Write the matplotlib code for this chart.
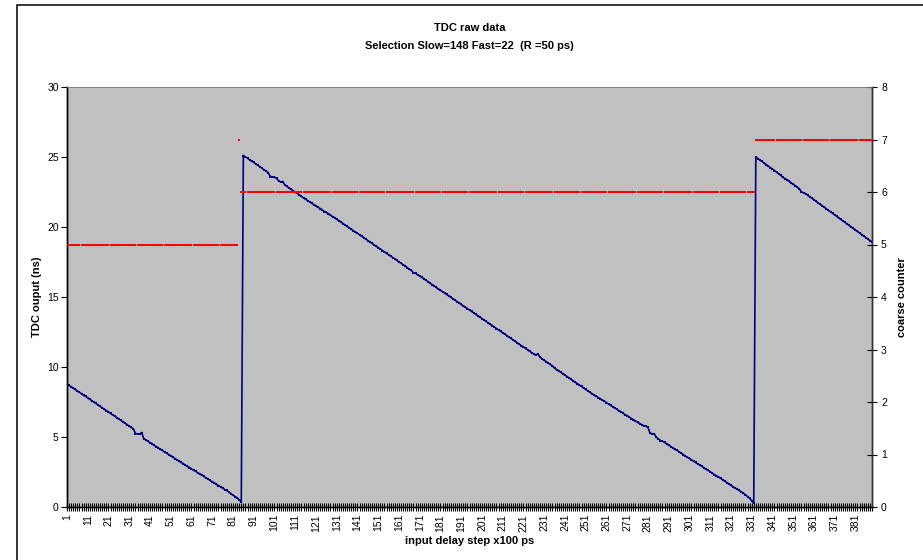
import numpy as np
import matplotlib
matplotlib.use("Agg")
import matplotlib.pyplot as plt
from matplotlib.patches import Rectangle
from matplotlib.ticker import FixedLocator, NullFormatter

plt.rcParams['font.family'] = ['Liberation Sans', 'DejaVu Sans']

# ---- data -------------------------------------------------------------
# TDC output (ns) per input delay step
tdc_seg1 = [8.80, 8.68, 8.60, 8.48, 8.40, 8.28, 8.20, 8.08, 7.98, 7.90,
            7.78, 7.70, 7.58, 7.48, 7.40, 7.28, 7.18, 7.08, 6.98, 6.88,
            6.80, 6.68, 6.58, 6.50, 6.38, 6.28, 6.18, 6.08, 5.98, 5.88,
            5.78, 5.68, 5.58, 5.25, 5.22, 5.20, 5.32, 4.88, 4.80, 4.70,
            4.60, 4.52, 4.40, 4.32, 4.22, 4.12, 4.05, 3.92, 3.85, 3.75,
            3.65, 3.58, 3.45, 3.38, 3.28, 3.18, 3.10, 3.00, 2.90, 2.82,
            2.72, 2.62, 2.55, 2.45, 2.35, 2.28, 2.18, 2.08, 2.00, 1.90,
            1.80, 1.72, 1.62, 1.52, 1.45, 1.35, 1.25, 1.18, 1.08, 0.95,
            0.85, 0.75, 0.65, 0.52, 0.38]
tdc_seg2 = [25.10, 25.00, 24.92, 24.80, 24.70, 24.62, 24.50, 24.40, 24.30, 24.20,
            24.08, 24.00, 23.88, 23.60, 23.58, 23.55, 23.48, 23.30, 23.22, 23.25,
            23.00, 22.90, 22.78, 22.70, 22.58, 22.48, 22.40, 22.28, 22.18, 22.08,
            21.98, 21.88, 21.78, 21.70, 21.60, 21.50, 21.40, 21.32, 21.22, 21.10,
            21.05, 20.95, 20.85, 20.74, 20.66, 20.55, 20.45, 20.36, 20.25, 20.15,
            20.04, 19.95, 19.84, 19.74, 19.64, 19.55, 19.44, 19.34, 19.24, 19.14,
            19.03, 18.93, 18.84, 18.72, 18.63, 18.53, 18.43, 18.32, 18.22, 18.12,
            18.02, 17.92, 17.82, 17.72, 17.62, 17.50, 17.42, 17.30, 17.22, 17.10,
            16.98, 16.90, 16.72, 16.70, 16.58, 16.50, 16.40, 16.30, 16.20, 16.10,
            15.99, 15.88, 15.80, 15.68, 15.58, 15.48, 15.38, 15.28, 15.18, 15.08,
            14.98, 14.88, 14.78, 14.67, 14.58, 14.47, 14.37, 14.27, 14.17, 14.07,
            13.97, 13.87, 13.76, 13.66, 13.56, 13.46, 13.36, 13.26, 13.16, 13.05,
            12.96, 12.85, 12.75, 12.65, 12.55, 12.44, 12.35, 12.24, 12.14, 12.04,
            11.94, 11.84, 11.73, 11.63, 11.53, 11.43, 11.33, 11.23, 11.12, 11.02,
            10.92, 10.85, 10.95, 10.70, 10.58, 10.48, 10.38, 10.28, 10.18, 10.08,
            9.92, 9.82, 9.72, 9.62, 9.52, 9.42, 9.32, 9.22, 9.11, 9.01,
            8.91, 8.81, 8.71, 8.61, 8.50, 8.40, 8.30, 8.20, 8.10, 8.00,
            7.92, 7.82, 7.74, 7.64, 7.55, 7.45, 7.36, 7.26, 7.17, 7.07,
            6.98, 6.88, 6.80, 6.70, 6.60, 6.52, 6.42, 6.32, 6.24, 6.14,
            6.05, 5.96, 5.88, 5.80, 5.76, 5.70, 5.28, 5.22, 5.24, 4.98,
            4.88, 4.75, 4.70, 4.62, 4.50, 4.42, 4.32, 4.22, 4.12, 4.05,
            3.95, 3.85, 3.75, 3.65, 3.55, 3.47, 3.36, 3.28, 3.18, 3.08,
            3.00, 2.90, 2.80, 2.70, 2.62, 2.52, 2.42, 2.32, 2.22, 2.15,
            2.05, 1.95, 1.85, 1.75, 1.65, 1.55, 1.45, 1.35, 1.28, 1.18,
            1.08, 0.98, 0.88, 0.75, 0.62, 0.45, 0.28]
tdc_seg3 = [25.00, 24.89, 24.78, 24.68, 24.57, 24.46, 24.35, 24.24, 24.14, 24.03,
            23.92, 23.81, 23.70, 23.55, 23.46, 23.38, 23.27, 23.16, 23.05, 22.95,
            22.84, 22.73, 22.50, 22.45, 22.38, 22.27, 22.16, 22.06, 21.95, 21.84,
            21.73, 21.62, 21.52, 21.41, 21.30, 21.19, 21.08, 20.98, 20.87, 20.76,
            20.65, 20.54, 20.44, 20.33, 20.22, 20.11, 20.00, 19.90, 19.79, 19.68,
            19.57, 19.46, 19.36, 19.25, 19.14, 19.03, 18.94]

# coarse counter: levels and how many consecutive steps hold each level
counter_levels = [5, 7, 6, 7]
counter_run_lengths = [83, 1, 248, 57]

title_lines = ["TDC raw data", "Selection Slow=148 Fast=22  (R =50 ps)"]
x_label = "input delay step x100 ps"
y_label = "TDC ouput (ns)"
y2_label = "coarse counter"

# ---- build ------------------------------------------------------------
tdc = np.array(tdc_seg1 + tdc_seg2 + tdc_seg3)
counter = np.repeat(counter_levels, counter_run_lengths)
steps = np.arange(1, len(tdc) + 1)

W, H = 923, 560
fig = plt.figure(figsize=(W / 100, H / 100), dpi=100)
fig.patch.set_facecolor("white")

L, R, T, B = 67, 872, 87, 507
ax = fig.add_axes([L / W, 1 - B / H, (R - L) / W, (B - T) / H])
ax.set_facecolor("#C0C0C0")

ax.plot(steps, tdc, color="#000080", lw=1.2, marker="s", ms=1.6,
        mew=0, mfc="#000080", zorder=3)
ax.set_xlim(1, len(steps))
ax.set_ylim(0, 30)
ax.set_yticks(np.arange(0, 31, 5))

ax2 = ax.twinx()
ax2.plot(steps, counter, ls="none", marker="s", ms=1.9, mew=0,
         mfc="#FF0000", zorder=4)
ax2.set_ylim(0, 8)
ax2.set_yticks(np.arange(0, 9, 1))

major = steps[::10]
ax.xaxis.set_major_locator(FixedLocator(major))
ax.set_xticklabels([str(s) for s in major], rotation=90, fontsize=7.5)
ax.xaxis.set_minor_locator(FixedLocator(steps))
ax.xaxis.set_minor_formatter(NullFormatter())
ax.tick_params(axis="x", which="both", direction="inout", length=6,
               width=0.8, color="black", pad=2)
ax.tick_params(axis="y", direction="out", length=4, width=0.8, labelsize=7.5,
               pad=2)
ax2.tick_params(axis="y", direction="inout", length=7, width=0.8,
                labelsize=7.5, pad=3)

for a in (ax, ax2):
    a.spines["top"].set_color("#808080")
    a.spines["top"].set_linewidth(0.6)
    a.spines["left"].set_linewidth(1.0)
    a.spines["bottom"].set_linewidth(1.0)
    a.spines["right"].set_linewidth(1.0)
    a.spines["right"].set_color("#303030")

fig.text((L + R) / 2 / W, 1 - 28 / H, title_lines[0], ha="center",
         va="center", fontsize=8, fontweight="bold")
fig.text((L + R) / 2 / W, 1 - 46 / H, title_lines[1], ha="center",
         va="center", fontsize=8, fontweight="bold")
fig.text((L + R) / 2 / W, 1 - 541 / H, x_label, ha="center", va="center",
         fontsize=8, fontweight="bold")
fig.text(37 / W, 1 - (T + B) / 2 / H, y_label, ha="center", va="center",
         rotation=90, fontsize=8, fontweight="bold")
fig.text(902 / W, 1 - (T + B) / 2 / H, y2_label, ha="center", va="center",
         rotation=90, fontsize=8, fontweight="bold")

fig.patches.append(Rectangle((17 / W, -0.05), 1.1, 1 - 5 / H + 0.05,
                             transform=fig.transFigure, fill=False,
                             edgecolor="black", lw=1.1, zorder=0))

fig.savefig("out.png", dpi=100)
